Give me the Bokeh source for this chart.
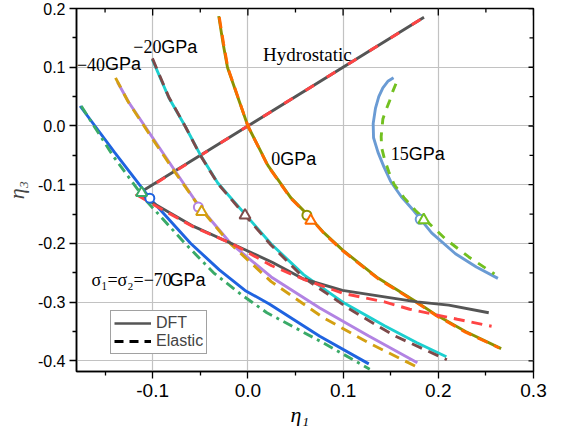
import math
from bokeh.plotting import figure
from bokeh.models import Range1d, FixedTicker, Legend, LegendItem, Title
from bokeh.core.properties import value
from bokeh.embed import file_html
from bokeh.resources import INLINE

# ---------------- data ----------------
eta1_ticks = [-0.1, 0.0, 0.1, 0.2, 0.3]
eta1_tick_labels = ["-0.1", "0.0", "0.1", "0.2", "0.3"]
eta1_minor = [-0.15, -0.05, 0.05, 0.15, 0.25]
eta3_ticks = [-0.4, -0.3, -0.2, -0.1, 0.0, 0.1, 0.2]
eta3_tick_labels = ["-0.4", "-0.3", "-0.2", "-0.1", "0.0", "0.1", "0.2"]
eta3_minor = [-0.35, -0.25, -0.15, -0.05, 0.05, 0.15]

X_MIN, X_MAX = -0.18, 0.3
Y_MIN, Y_MAX = -0.418, 0.2

# hydrostatic path
hydro_dft_x = [-0.115, 0.0, 0.185]
hydro_dft_y = [-0.115, 0.0, 0.185]
hydro_el_x = [-0.118, 0.0, 0.184]
hydro_el_y = [-0.119, 0.0, 0.184]

# path through the triangles (low branch)
path_dft_x = [-0.113, -0.098, -0.057, -0.016, 0.0255, 0.0585, 0.0993, 0.1435, 0.1776, 0.211, 0.253]
path_dft_y = [-0.117, -0.133, -0.171, -0.201, -0.232, -0.2605, -0.280, -0.291, -0.2995, -0.305, -0.318]
path_el_x = [-0.116, -0.098, -0.057, -0.016, 0.025, 0.06, 0.1, 0.1435, 0.17, 0.22, 0.256]
path_el_y = [-0.118, -0.135, -0.172, -0.201, -0.238, -0.262, -0.285, -0.2995, -0.312, -0.329, -0.341]

# sigma1 = sigma2 = -70 GPa
m70_dft_x = [-0.1762, -0.14, -0.103, -0.06, -0.03, -0.003, 0.0225, 0.0755, 0.127]
m70_dft_y = [0.034, -0.045, -0.123, -0.2, -0.245, -0.28, -0.303, -0.358, -0.405]
m70_el_x = [-0.175, -0.142, -0.108, -0.066, -0.036, -0.007, 0.02, 0.0755, 0.128]
m70_el_y = [0.034, -0.05, -0.125, -0.2, -0.25, -0.287, -0.318, -0.366, -0.414]

# -40 GPa
m40_dft_x = [-0.137, -0.125, -0.1, -0.075, -0.052, -0.018, 0.0245, 0.0755, 0.1265, 0.178]
m40_dft_y = [0.075, 0.04, -0.02, -0.08, -0.135, -0.2, -0.257, -0.31, -0.357, -0.403]
m40_el_x = [-0.139, -0.126, -0.101, -0.076, -0.05, -0.02, 0.0245, 0.079, 0.1265, 0.181]
m40_el_y = [0.082, 0.042, -0.02, -0.08, -0.14, -0.198, -0.265, -0.326, -0.369, -0.413]

# -20 GPa
m20_dft_x = [-0.1003, -0.083, -0.066, -0.0503, -0.0316, -0.003, 0.0245, 0.0585, 0.0993, 0.1435, 0.1776, 0.2085]
m20_dft_y = [0.113, 0.048, 0.0, -0.048, -0.097, -0.15, -0.201, -0.253, -0.2995, -0.340, -0.369, -0.393]
m20_el_x = [-0.1003, -0.083, -0.066, -0.0503, -0.0316, -0.003, 0.0245, 0.0585, 0.106, 0.1537, 0.209]
m20_el_y = [0.115, 0.049, 0.0, -0.049, -0.098, -0.152, -0.203, -0.258, -0.311, -0.357, -0.398]

# 0 GPa
p0_dft_x = [-0.0306, -0.026, -0.0214, 0.0, 0.021, 0.045, 0.062, 0.08, 0.0993, 0.1367, 0.1776, 0.198, 0.2286, 0.266]
p0_dft_y = [0.187, 0.14, 0.0995, 0.0, -0.067, -0.122, -0.150, -0.182, -0.211, -0.259, -0.300, -0.322, -0.350, -0.379]
p0_el_x = [-0.030, -0.0255, -0.021, 0.0, 0.021, 0.045, 0.063, 0.08, 0.0993, 0.1367, 0.1776, 0.198, 0.2286, 0.264]
p0_el_y = [0.185, 0.14, 0.099, 0.0, -0.068, -0.123, -0.152, -0.183, -0.212, -0.260, -0.301, -0.323, -0.351, -0.378]

# 15 GPa
p15_dft_x = [0.153, 0.147, 0.1418, 0.1375, 0.134, 0.1316, 0.132, 0.1367, 0.143, 0.150, 0.161, 0.174, 0.193, 0.218, 0.240, 0.2626]
p15_dft_y = [0.082, 0.076, 0.065, 0.050, 0.030, 0.004, -0.020, -0.045, -0.070, -0.0945, -0.120, -0.144, -0.182, -0.2175, -0.240, -0.2595]
p15_el_x = [0.1555, 0.152, 0.1487, 0.145, 0.1418, 0.140, 0.1405, 0.1435, 0.148, 0.1537, 0.164, 0.176, 0.208, 0.232, 0.259]
p15_el_y = [0.072, 0.058, 0.042, 0.027, 0.012, -0.018, -0.037, -0.0565, -0.078, -0.100, -0.122, -0.144, -0.193, -0.223, -0.252]

# markers at the hydrostatic-path crossings
circle_x = [-0.103, -0.052, 0.062, 0.181]
circle_y = [-0.123, -0.138, -0.152, -0.159]
triangle_x = [-0.1116, -0.0486, -0.003, 0.066, 0.1847]
triangle_y = [-0.114, -0.146, -0.152, -0.161, -0.160]

# ---------------- styles ----------------
C_GRAY = "#555555"
C_RED = "#ff4444"
C_BLUE = "#1f63e0"
C_GREEN = "#3aaa68"
C_LILAC = "#b283e3"
C_GOLD = "#d4a012"
C_CYAN = "#1ccfcf"
C_BROWN = "#7d4a4a"
C_OLIVE = "#8e9200"
C_ORANGE = "#ff6a00"
C_STEEL = "#6a9bd4"
C_LIME = "#72c020"

circle_colors = [C_BLUE, C_LILAC, C_OLIVE, C_STEEL]
triangle_colors = [C_GREEN, C_GOLD, C_BROWN, C_ORANGE, C_LIME]

SANS = "Liberation Sans"
SERIF = "Liberation Serif"

p = figure(width=548, height=426,
           x_range=Range1d(X_MIN, X_MAX), y_range=Range1d(Y_MIN, Y_MAX),
           output_backend="svg", toolbar_location=None,
           min_border_left=71, min_border_right=15,
           min_border_top=8, min_border_bottom=0)
p.outline_line_color = "black"
p.outline_line_width = 1.5
p.background_fill_color = "white"

# axes
xt = FixedTicker(ticks=eta1_ticks, minor_ticks=eta1_minor)
yt = FixedTicker(ticks=eta3_ticks, minor_ticks=eta3_minor)
for ax in p.xaxis:
    ax.ticker = xt
    ax.major_label_overrides = {v: s for v, s in zip(eta1_ticks, eta1_tick_labels)}
    ax.major_label_text_font = SANS
    ax.major_label_text_font_size = "19px"
    ax.major_label_text_line_height = 0.9
    ax.major_label_standoff = 5
for ax in p.yaxis:
    ax.ticker = yt
    ax.major_label_overrides = {v: s for v, s in zip(eta3_ticks, eta3_tick_labels)}
    ax.major_label_text_font = SANS
    ax.major_label_text_font_size = "16px"
    ax.major_label_standoff = 4
    ax.axis_label = "η₃"
    ax.axis_label_text_font = SERIF
    ax.axis_label_text_font_style = "italic"
    ax.axis_label_text_font_size = "22px"
    ax.axis_label_standoff = 6
for ax in list(p.xaxis) + list(p.yaxis):
    ax.axis_line_width = 1.5
    ax.axis_line_color = "black"
    ax.major_tick_line_color = "black"
    ax.minor_tick_line_color = "black"
    ax.major_tick_line_width = 1.3
    ax.minor_tick_line_width = 1.3
    ax.major_tick_out = 7
    ax.major_tick_in = 0
    ax.minor_tick_out = 4
    ax.minor_tick_in = 0
    ax.major_label_text_color = "black"

# x-axis title as a panel below the axis
p.add_layout(Title(text="η₁", align="left", offset=214, standoff=0,
                   text_font=SERIF, text_font_style="italic", text_font_size="22px",
                   text_line_height=0.6, text_color="black"), "below")

# inward ticks on the top and right frame edges (half of each dash is clipped by the frame)
p.scatter(eta1_ticks, [Y_MAX] * len(eta1_ticks), marker="dash", angle=math.pi / 2, size=14,
          line_color="black", line_width=1.3)
p.scatter(eta1_minor, [Y_MAX] * len(eta1_minor), marker="dash", angle=math.pi / 2, size=8,
          line_color="black", line_width=1.3)
p.scatter([X_MAX] * len(eta3_ticks), eta3_ticks, marker="dash", size=10,
          line_color="black", line_width=1.3)
p.scatter([X_MAX] * len(eta3_minor), eta3_minor, marker="dash", size=8,
          line_color="black", line_width=1.3)

p.xgrid.ticker = xt
p.ygrid.ticker = yt
for g in (p.xgrid, p.ygrid):
    g.grid_line_color = "#c2c2c2"
    g.grid_line_width = 1.2

LW = 2.9
DASH = "11 7"

# DFT first, elastic dashes on top
p.line(hydro_dft_x, hydro_dft_y, line_color=C_GRAY, line_width=LW)
p.line(hydro_el_x, hydro_el_y, line_color=C_RED, line_width=LW, line_dash="10 15")

p.line(m70_dft_x, m70_dft_y, line_color=C_BLUE, line_width=LW)
p.line(m70_el_x, m70_el_y, line_color=C_GREEN, line_width=LW, line_dash="10 5 3 5")

p.line(m40_dft_x, m40_dft_y, line_color=C_LILAC, line_width=LW)
p.line(m40_el_x, m40_el_y, line_color=C_GOLD, line_width=LW, line_dash=DASH)

p.line(m20_dft_x, m20_dft_y, line_color=C_CYAN, line_width=LW)
p.line(m20_el_x, m20_el_y, line_color=C_BROWN, line_width=LW, line_dash=DASH)

p.line(p0_dft_x, p0_dft_y, line_color=C_OLIVE, line_width=LW)
p.line(p0_el_x, p0_el_y, line_color=C_ORANGE, line_width=LW, line_dash=DASH)

p.line(p15_dft_x, p15_dft_y, line_color=C_STEEL, line_width=LW)
p.line(p15_el_x, p15_el_y, line_color=C_LIME, line_width=LW, line_dash="9 8")

p.line(path_dft_x, path_dft_y, line_color=C_GRAY, line_width=LW)
p.line(path_el_x, path_el_y, line_color=C_RED, line_width=LW, line_dash=DASH)

p.scatter(circle_x, circle_y, marker="circle", size=9, line_color=circle_colors,
          fill_color="white", line_width=2)
p.scatter(triangle_x, triangle_y, marker="triangle", size=11, line_color=triangle_colors,
          fill_color="white", line_width=2)

# annotations (serif numbers + sans "GPa")
def lab(x, y, serif_txt, sans_txt, off, size="18px"):
    if serif_txt:
        p.text(x=[x], y=[y], text=[serif_txt], text_font=value(SERIF), text_font_size=size,
               text_baseline="middle", text_align="left", text_color="black")
    if sans_txt:
        p.text(x=[x], y=[y], text=[sans_txt], text_font=value(SANS), text_font_size=size,
               text_baseline="middle", text_align="left", text_color="black", x_offset=off)

lab(-0.1796, 0.105, "−40", "GPa", 28)
lab(-0.1204, 0.135, "−20", "GPa", 28)
lab(0.0245, -0.0557, "0", "GPa", 9)
lab(0.150, -0.0475, "15", "GPa", 18)
lab(-0.1643, -0.262, "σ₁=σ₂=−70", "GPa", 78)
p.text(x=[0.016], y=[0.121], text=["Hydrostatic"], text_font=value(SERIF), text_font_size="19px",
       text_baseline="middle", text_align="left", text_color="black")

# legend (sample renderers hold a single NaN point so only the legend glyph shows)
nan = float("nan")
r_dft = p.line([nan], [nan], line_color=C_GRAY, line_width=2.5)
r_el = p.line([nan], [nan], line_color="black", line_width=3, line_dash="9 6")
leg = Legend(items=[LegendItem(label="DFT", renderers=[r_dft]),
                    LegendItem(label="Elastic", renderers=[r_el])],
             location=(34, 17), glyph_width=37, glyph_height=18, label_height=18,
             spacing=0, padding=3, margin=0, label_standoff=5,
             label_text_font=SANS, label_text_font_size="16px", label_text_line_height=1.0,
             border_line_color="#444444", border_line_width=1,
             background_fill_color="white", background_fill_alpha=1.0)
p.add_layout(leg, "center")

open("out.html", "w").write(file_html(p, INLINE))
